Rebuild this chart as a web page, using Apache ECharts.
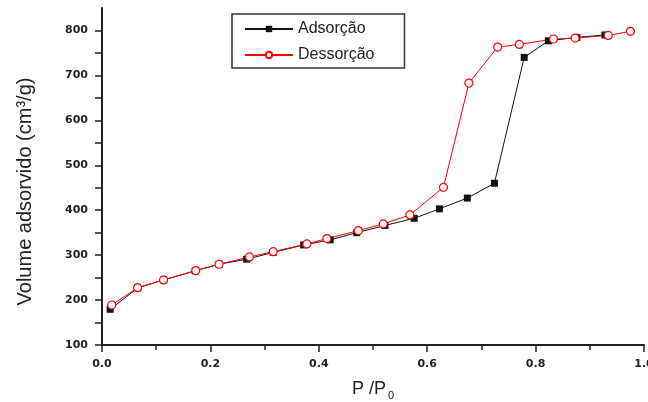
<!DOCTYPE html>
<html>
<head>
<meta charset="utf-8">
<script src="https://cdn.jsdelivr.net/npm/echarts@6/dist/echarts.min.js"></script>
<style>
html,body{margin:0;padding:0;background:#fff;}
#c{width:648px;height:402px;}
</style>
</head>
<body>
<div id="c"></div>
<script>
// Adsorção (black filled squares)
var adsX = [0.015, 0.066, 0.114, 0.172, 0.216, 0.267, 0.316, 0.372, 0.421, 0.470, 0.522, 0.576, 0.6225, 0.674, 0.724, 0.779, 0.8235, 0.876, 0.928];
var adsY = [179.5, 227, 245, 265, 279.7, 291, 306, 322.7, 334, 350, 366, 382, 403, 427, 460, 740, 777, 784.5, 790];
// Dessorção (red hollow circles)
var desX = [0.018, 0.0656, 0.1136, 0.173, 0.216, 0.272, 0.316, 0.378, 0.415, 0.473, 0.519, 0.568, 0.63, 0.677, 0.730, 0.770, 0.833, 0.873, 0.934, 0.975];
var desY = [189, 227.6, 244.8, 265.6, 279.7, 296, 307.8, 325, 336.8, 354.6, 369.5, 389.5, 451, 683, 763, 769, 781, 783, 789, 798];
var seriesNames = ['Adsorção', 'Dessorção'];
var xTitle = 'P /P';
var yTitle = 'Volume adsorvido (cm³/g)';

function zip(xs, ys) { return xs.map(function (x, i) { return [x, ys[i]]; }); }

var chart = echarts.init(document.getElementById('c'));
var tickFont = { fontFamily: 'DejaVu Sans', fontWeight: 'bold', fontSize: 11, color: '#222' };
chart.setOption({
  animation: false,
  backgroundColor: '#fff',
  grid: { left: 102, right: 4, top: 8, bottom: 57, containLabel: false, outerBoundsMode: 'none' },
  legend: {
    left: 232, top: 14, orient: 'vertical',
    itemWidth: 48, itemHeight: 8, itemGap: 10,
    padding: [7, 30, 5, 12],
    borderColor: '#333', borderWidth: 1.5,
    textStyle: { fontFamily: 'Liberation Sans', fontSize: 16, color: '#222', lineHeight: 16 },
    data: seriesNames
  },
  xAxis: {
    type: 'value', min: 0, max: 1, interval: 0.2,
    name: '{a|' + xTitle + '}{b|0}',
    nameLocation: 'middle', nameGap: 33,
    nameTextStyle: {
      rich: {
        a: { fontFamily: 'Liberation Sans', fontSize: 18, color: '#222' },
        b: { fontFamily: 'Liberation Sans', fontSize: 11, color: '#222', verticalAlign: 'bottom', padding: [12, 0, 0, 2] }
      }
    },
    axisLine: { lineStyle: { color: '#222', width: 2 } },
    axisTick: { show: true, inside: false, length: 7, lineStyle: { color: '#222', width: 1.5 } },
    minorTick: { show: true, splitNumber: 2, length: 5, lineStyle: { color: '#222', width: 1.5 } },
    axisLabel: Object.assign({ margin: 14, formatter: function (v) { return v.toFixed(1); } }, tickFont),
    splitLine: { show: false }
  },
  yAxis: {
    type: 'value', min: 100, max: 850, interval: 50,
    name: yTitle,
    nameLocation: 'middle', nameGap: 67, nameRotate: 90,
    nameTextStyle: { fontFamily: 'Liberation Sans', fontSize: 20, color: '#222', padding: [0, 30, 0, 0] },
    axisLine: { lineStyle: { color: '#222', width: 2 } },
    axisTick: { show: true, inside: false, length: 7, lineStyle: { color: '#222', width: 1.5 } },
    axisLabel: Object.assign({ margin: 14, showMaxLabel: false, formatter: function (v) { return v % 100 === 0 ? String(v) : ''; } }, tickFont),
    splitLine: { show: false }
  },
  series: [
    {
      name: seriesNames[0], type: 'line', data: zip(adsX, adsY),
      symbol: 'rect', symbolSize: 7,
      lineStyle: { color: '#111', width: 1 },
      itemStyle: { color: '#111' }
    },
    {
      name: seriesNames[1], type: 'line', data: zip(desX, desY),
      symbol: 'circle', symbolSize: 8,
      lineStyle: { color: '#ff0000', width: 1 },
      itemStyle: { color: '#fff', borderColor: '#ff0000', borderWidth: 1.2 }
    }
  ]
});
</script>
</body>
</html>
